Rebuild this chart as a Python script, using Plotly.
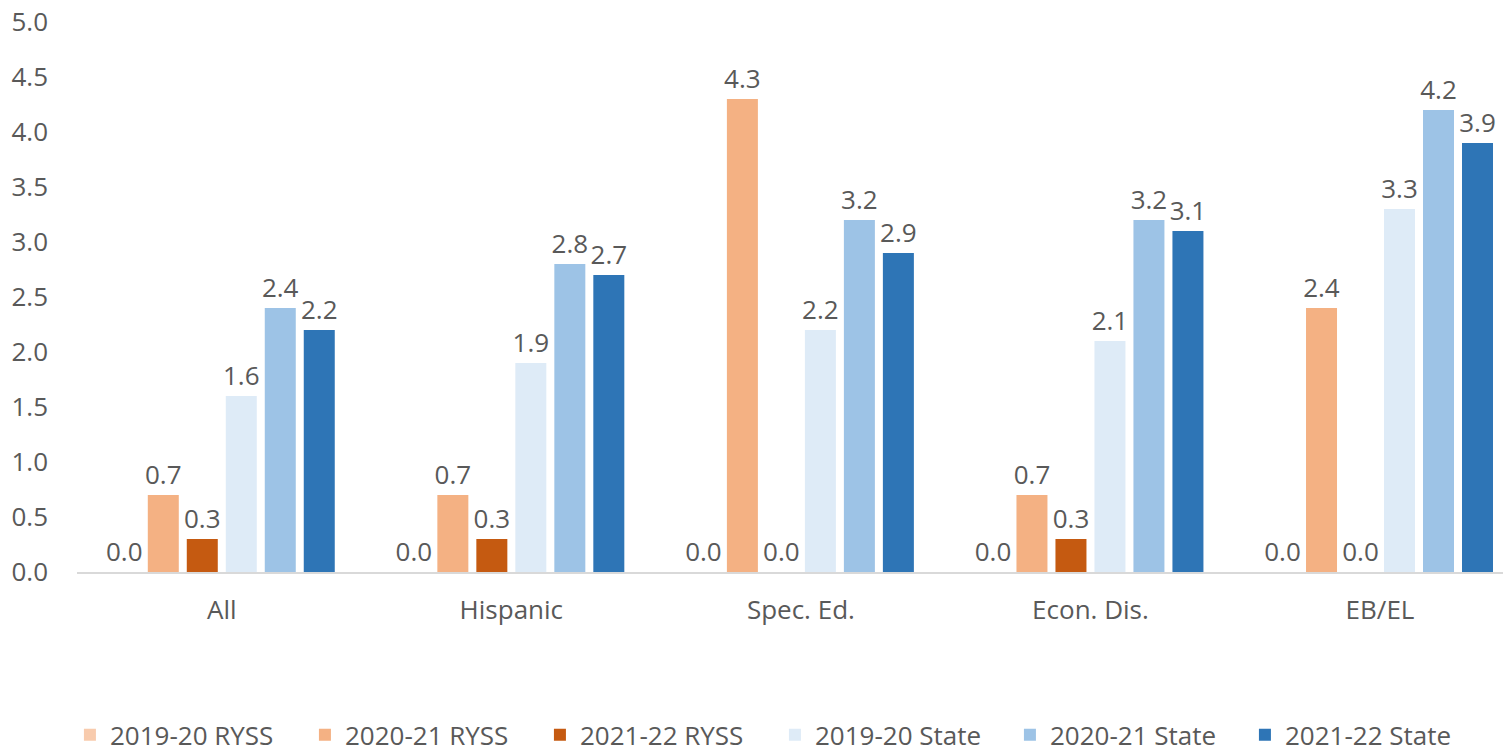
import plotly.graph_objects as go

categories = ["All", "Hispanic", "Spec. Ed.", "Econ. Dis.", "EB/EL"]
series_names = ["2019-20 RYSS", "2020-21 RYSS", "2021-22 RYSS",
                "2019-20 State", "2020-21 State", "2021-22 State"]
ryss_1920 = [0.0, 0.0, 0.0, 0.0, 0.0]
ryss_2021 = [0.7, 0.7, 4.3, 0.7, 2.4]
ryss_2122 = [0.3, 0.3, 0.0, 0.3, 0.0]
state_1920 = [1.6, 1.9, 2.2, 2.1, 3.3]
state_2021 = [2.4, 2.8, 3.2, 3.2, 4.2]
state_2122 = [2.2, 2.7, 2.9, 3.1, 3.9]
colors = ["#F8CBAD", "#F4B183", "#C55A11", "#DEEBF7", "#9DC3E6", "#2E75B6"]
y_ticks = [0.0, 0.5, 1.0, 1.5, 2.0, 2.5, 3.0, 3.5, 4.0, 4.5, 5.0]

all_series = [ryss_1920, ryss_2021, ryss_2122, state_1920, state_2021, state_2122]

FONT = "Open Sans"
TXT = "#595959"
FS = 26
fig = go.Figure()
for name, vals, col in zip(series_names, all_series, colors):
    fig.add_trace(go.Bar(
        name=name, x=categories, y=vals, marker_color=col,
        marker_line_width=0,
        text=[f"{v:.1f}" for v in vals], textposition="outside",
        constraintext="none",
        textfont=dict(family=FONT, size=FS, color=TXT),
        cliponaxis=False,
    ))

fig.update_layout(
    barmode="group", bargap=0.192, bargroupgap=0.205,
    width=1511, height=751,
    margin=dict(l=69, r=0, t=14, b=187, autoexpand=False),
    plot_bgcolor="white", paper_bgcolor="white",
    font=dict(family=FONT, size=FS, color=TXT),
    uniformtext=dict(mode=False),
    xaxis=dict(showline=True, linecolor="#D9D9D9", linewidth=2,
               range=[-0.5, 4.48],
               ticks="", showgrid=False, ticklabelstandoff=14,
               tickfont=dict(size=FS, color=TXT)),
    yaxis=dict(range=[0, 5], tickvals=y_ticks, tickformat=".1f",
               showgrid=False, zeroline=False, showline=False,
               ticks="", ticklabelstandoff=28, ticklabeloverflow="allow",
               tickfont=dict(size=FS, color=TXT)),
    legend=dict(orientation="h", x=0.484, xanchor="center", y=-0.296,
                yanchor="middle", font=dict(size=FS, color=TXT),
                entrywidth=190, itemwidth=30),
    showlegend=True,
)

fig.write_html("out.html")
